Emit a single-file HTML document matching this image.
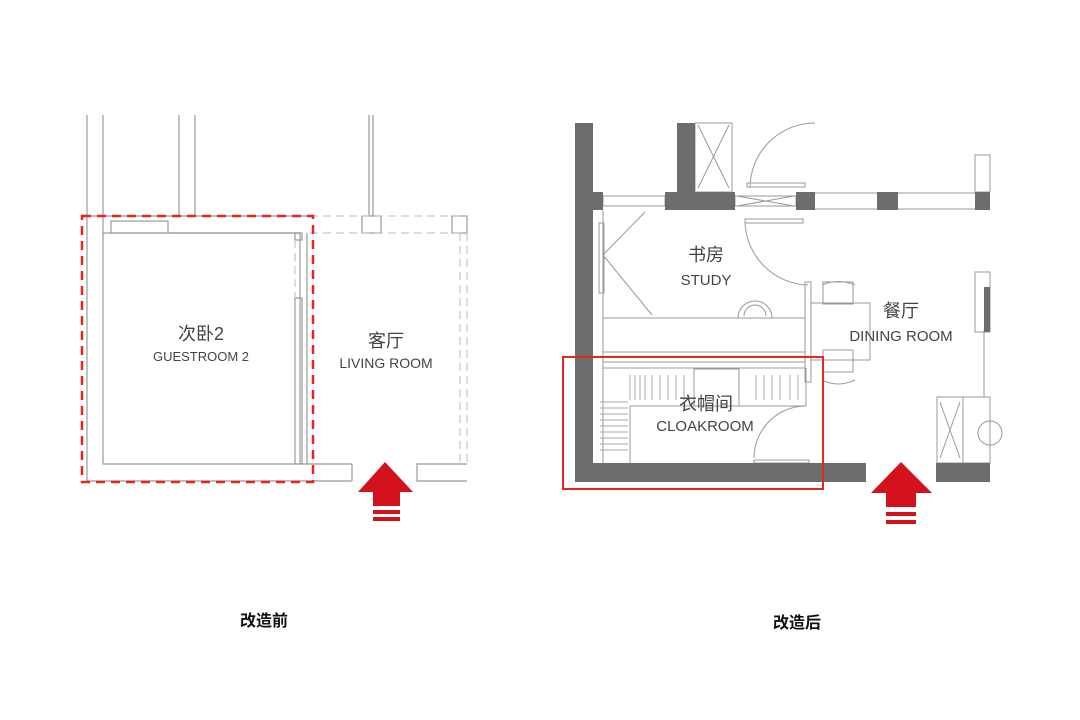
<!DOCTYPE html>
<html><head><meta charset="utf-8"><style>
html,body{margin:0;padding:0;background:#fff;width:1080px;height:720px;overflow:hidden}
svg{display:block}
text{font-family:"Liberation Sans","Noto Sans CJK SC",sans-serif;fill:#444}
</style></head><body>
<svg width="1080" height="720" viewBox="0 0 1080 720" xmlns="http://www.w3.org/2000/svg">
<!-- LEFT PLAN -->
<g stroke="#999" stroke-width="1.2" fill="none">
<line x1="87" y1="115" x2="87" y2="481"/>
<line x1="103" y1="115" x2="103" y2="233"/>
<line x1="179" y1="115" x2="179" y2="216"/>
<line x1="195" y1="115" x2="195" y2="216"/>
<line x1="369" y1="115" x2="369" y2="216"/>
<line x1="373" y1="115" x2="373" y2="216"/>
<line x1="87" y1="216" x2="310" y2="216"/>
<rect x="103" y="233" width="197" height="231"/>
<line x1="168" y1="233" x2="300" y2="233"/>
<rect x="111" y="221" width="57" height="12"/>
<line x1="87" y1="481" x2="352" y2="481"/>
<line x1="300" y1="464" x2="352" y2="464"/>
<line x1="352" y1="464" x2="352" y2="481"/>
<polyline points="467,464 417,464 417,481 467,481"/>
<rect x="295" y="298" width="7" height="166"/>
<rect x="295" y="233" width="7" height="7"/>
<rect x="362" y="216" width="19" height="17"/>
<rect x="452" y="216" width="15" height="17"/>
<line x1="307" y1="233" x2="307" y2="464"/>
</g>
<g stroke="#bbb" stroke-width="1" stroke-dasharray="8,5" fill="none">
<line x1="310" y1="216" x2="467" y2="216"/>
<line x1="310" y1="233" x2="467" y2="233"/>
<line x1="295" y1="240" x2="295" y2="298"/>
<line x1="460" y1="233" x2="460" y2="464"/>
<line x1="467" y1="233" x2="467" y2="464"/>
</g>
<rect x="82" y="216" width="231" height="266" fill="none" stroke="#e8261c" stroke-width="2.5" stroke-dasharray="9,6"/>
<text x="201" y="340" font-size="18" text-anchor="middle">次卧2</text>
<text x="201" y="361" font-size="13" text-anchor="middle">GUESTROOM 2</text>
<text x="386" y="347" font-size="18" text-anchor="middle">客厅</text>
<text x="386" y="368" font-size="14" text-anchor="middle">LIVING ROOM</text>
<g fill="#d3121d">
<polygon points="385,462 413,492 400,492 400,506 373,506 373,492 358,492"/>
<rect x="373" y="510" width="27" height="4"/>
<rect x="373" y="517" width="27" height="4"/>
</g>

<!-- RIGHT PLAN -->
<g stroke="#999" stroke-width="1" fill="none">
<rect x="695" y="123" width="37" height="69"/>
<line x1="698" y1="125" x2="729" y2="188"/><line x1="729" y1="125" x2="698" y2="188"/>
<rect x="603" y="196" width="62" height="10"/>
<rect x="735" y="196" width="61" height="10"/>
<line x1="737" y1="196" x2="794" y2="206"/><line x1="794" y1="196" x2="737" y2="206"/>
<line x1="815" y1="193" x2="975" y2="193"/><line x1="815" y1="209" x2="975" y2="209"/>
<rect x="747" y="183" width="58" height="4"/>
<rect x="745" y="219" width="58" height="4"/>
<path d="M815 123 A65 65 0 0 0 750 188"/>
<path d="M745 222 A65 65 0 0 0 808 285"/>
<rect x="599" y="223" width="5" height="70"/>
<line x1="603" y1="210" x2="603" y2="463"/>
<line x1="603" y1="255" x2="645" y2="212"/><line x1="603" y1="255" x2="652" y2="315"/>
<line x1="603" y1="318" x2="805" y2="318"/>
<line x1="603" y1="352" x2="805" y2="352"/>
<rect x="805" y="282" width="6" height="100"/>
<path d="M738 318 A17 17 0 0 1 772 318"/>
<path d="M744 316 A11 11 0 0 1 766 316"/>
<rect x="823" y="282" width="30" height="22"/><rect x="823" y="350" width="30" height="22"/>
<path d="M822 285 Q838 278 855 285"/><path d="M822 380 Q838 388 855 380"/>
<polyline points="811,303 870,303 870,360 811,360"/>
<line x1="603" y1="362" x2="805" y2="362"/>
<line x1="603" y1="368" x2="805" y2="368"/>
<line x1="630" y1="406" x2="630" y2="463"/>
<line x1="630" y1="406" x2="806" y2="406"/>
<line x1="806" y1="368" x2="806" y2="406"/>
<rect x="694" y="369" width="45" height="37"/>
<path d="M806 406 A52 52 0 0 0 754 458"/>
<rect x="754" y="460" width="55" height="3"/>
<rect x="975" y="155" width="15" height="37"/>
<rect x="975" y="272" width="15" height="60"/>
<line x1="984" y1="330" x2="984" y2="397"/>
<rect x="937" y="397" width="53" height="66"/>
<line x1="963" y1="397" x2="963" y2="463"/>
<line x1="940" y1="402" x2="960" y2="458"/><line x1="960" y1="402" x2="940" y2="458"/>
<circle cx="990" cy="433" r="12"/>
</g>
<g stroke="#aaa" stroke-width="1">
<line x1="600" y1="402" x2="628" y2="402"/><line x1="600" y1="408" x2="628" y2="408"/><line x1="600" y1="414" x2="628" y2="414"/>
<line x1="600" y1="420" x2="628" y2="420"/><line x1="600" y1="426" x2="628" y2="426"/><line x1="600" y1="432" x2="628" y2="432"/>
<line x1="600" y1="438" x2="628" y2="438"/><line x1="600" y1="444" x2="628" y2="444"/><line x1="600" y1="450" x2="628" y2="450"/>
<line x1="630" y1="375" x2="630" y2="400"/><line x1="635" y1="375" x2="635" y2="400"/><line x1="640" y1="375" x2="640" y2="400"/>
<line x1="645" y1="375" x2="645" y2="400"/><line x1="652" y1="375" x2="652" y2="400"/><line x1="660" y1="375" x2="660" y2="400"/>
<line x1="668" y1="375" x2="668" y2="400"/><line x1="676" y1="375" x2="676" y2="400"/><line x1="684" y1="375" x2="684" y2="400"/>
<line x1="756" y1="375" x2="756" y2="400"/><line x1="764" y1="375" x2="764" y2="400"/><line x1="772" y1="375" x2="772" y2="400"/>
<line x1="780" y1="375" x2="780" y2="400"/><line x1="790" y1="375" x2="790" y2="400"/><line x1="798" y1="375" x2="798" y2="400"/>
</g>
<g fill="#6d6d6f">
<rect x="575" y="123" width="18" height="359"/>
<rect x="575" y="463" width="291" height="19"/>
<rect x="936" y="463" width="54" height="19"/>
<rect x="677" y="123" width="18" height="87"/>
<rect x="593" y="192" width="10" height="18"/>
<rect x="665" y="192" width="70" height="18"/>
<rect x="796" y="192" width="19" height="18"/>
<rect x="877" y="192" width="21" height="18"/>
<rect x="975" y="192" width="15" height="18"/>
<rect x="984" y="287" width="6" height="45"/>
</g>
<rect x="563" y="357" width="260" height="132" fill="none" stroke="#e8261c" stroke-width="2"/>
<text x="706" y="261" font-size="18" text-anchor="middle">书房</text>
<text x="706" y="285" font-size="15" text-anchor="middle">STUDY</text>
<text x="901" y="317" font-size="18" text-anchor="middle">餐厅</text>
<text x="901" y="341" font-size="15" text-anchor="middle">DINING ROOM</text>
<text x="706" y="410" font-size="18" text-anchor="middle">衣帽间</text>
<text x="705" y="431" font-size="15" text-anchor="middle">CLOAKROOM</text>
<g fill="#d3121d">
<polygon points="901,462 932,493 916,493 916,507 886,507 886,493 871,493"/>
<rect x="886" y="512" width="30" height="4"/>
<rect x="886" y="520" width="30" height="4"/>
</g>
<text x="264" y="626" font-size="16" font-weight="bold" text-anchor="middle" style="fill:#111">改造前</text>
<text x="797" y="628" font-size="16" font-weight="bold" text-anchor="middle" style="fill:#111">改造后</text>
</svg>
</body></html>
